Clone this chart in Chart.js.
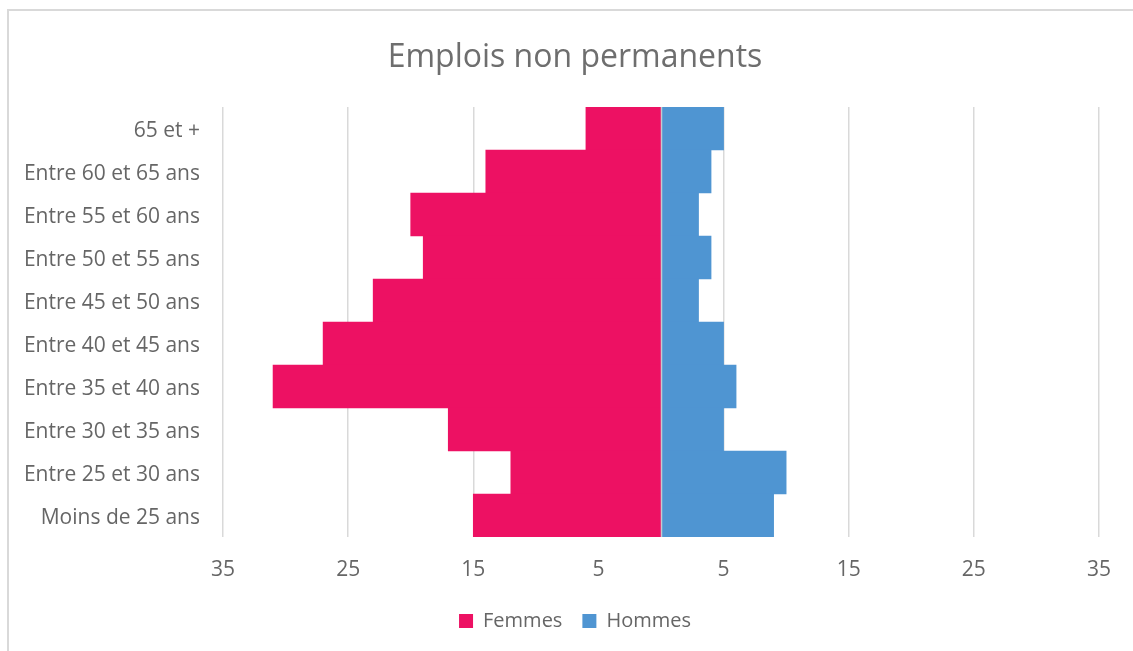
<!DOCTYPE html>
<html>
<head>
<meta charset="utf-8">
<script src="https://cdn.jsdelivr.net/npm/chart.js@4.4.1/dist/chart.umd.min.js"></script>
<style>
  html, body { margin: 0; padding: 0; background: #ffffff; overflow: hidden; }
  #wrap { position: relative; width: 1133px; height: 651px; overflow: hidden; }
  #frame { position: absolute; left: 7px; top: 9px; width: 1200px; height: 700px;
           border: 2px solid #d9d9d9; box-sizing: border-box; }
  #c { position: absolute; left: 0; top: 0; }
</style>
</head>
<body>
<div id="wrap">
  <div id="frame"></div>
  <canvas id="c" width="1150" height="651"></canvas>
</div>
<script>
// Age groups, top row first
const ageGroups = [
  '65 et +',
  'Entre 60 et 65 ans',
  'Entre 55 et 60 ans',
  'Entre 50 et 55 ans',
  'Entre 45 et 50 ans',
  'Entre 40 et 45 ans',
  'Entre 35 et 40 ans',
  'Entre 30 et 35 ans',
  'Entre 25 et 30 ans',
  'Moins de 25 ans'
];

// Headcounts per age group
const femmes = [6, 14, 20, 19, 23, 27, 31, 17, 12, 15];
const hommes = [5, 4, 3, 4, 3, 5, 6, 5, 10, 9];

// Horizontal axis range and tick spacing
const axisMin = -35;
const axisMax = 35;
const axisStep = 10;

const textColor = '#666666';
const titleColor = '#6e6e6e';
const fontFamily = '"Open Sans", "Liberation Sans", sans-serif';

// Vertical axis line drawn over the bars at value 0
const zeroLine = {
  id: 'zeroLine',
  afterDatasetsDraw(chart) {
    const { ctx, chartArea, scales } = chart;
    const x = Math.round(scales.x.getPixelForValue(0)) + 0.5;
    ctx.save();
    ctx.strokeStyle = '#c4c9d0';
    ctx.lineWidth = 1.5;
    ctx.beginPath();
    ctx.moveTo(x, chartArea.top);
    ctx.lineTo(x, chartArea.bottom);
    ctx.stroke();
    ctx.restore();
  }
};

new Chart(document.getElementById('c'), {
  type: 'bar',
  data: {
    labels: ageGroups,
    datasets: [
      {
        label: 'Femmes',
        data: femmes.map(v => -v),
        backgroundColor: '#ed1163',
        borderWidth: 0
      },
      {
        label: 'Hommes',
        data: hommes,
        backgroundColor: '#4f95d2',
        borderWidth: 0
      }
    ]
  },
  options: {
    indexAxis: 'y',
    responsive: false,
    animation: false,
    devicePixelRatio: 1,
    datasets: {
      bar: { barPercentage: 1, categoryPercentage: 1 }
    },
    layout: { padding: { left: 0, right: 0, top: 16, bottom: 10 } },
    plugins: {
      title: {
        display: true,
        text: 'Emplois non permanents',
        color: titleColor,
        font: { family: fontFamily, size: 32, weight: 'normal' },
        padding: { top: 23, bottom: 29.6 }
      },
      legend: {
        position: 'bottom',
        labels: {
          color: textColor,
          font: { family: fontFamily, size: 20 },
          boxWidth: 14,
          boxHeight: 14,
          padding: 20
        }
      },
      tooltip: { enabled: false }
    },
    scales: {
      x: {
        stacked: true,
        min: axisMin,
        max: axisMax,
        afterFit(scale) { scale.height = 54; },
        ticks: {
          stepSize: axisStep,
          color: textColor,
          font: { family: fontFamily, size: 21 },
          padding: 20,
          maxRotation: 0,
          callback: v => Math.abs(v)
        },
        grid: { color: '#d9d9d9', lineWidth: 1.5, drawTicks: false },
        border: { display: false }
      },
      y: {
        stacked: true,
        afterFit(scale) { scale.width = 223; },
        ticks: {
          color: textColor,
          font: { family: fontFamily, size: 21 },
          padding: 23,
          labelOffset: 3
        },
        grid: { display: false, drawTicks: false },
        border: { display: false }
      },
      // empty margin on the right of the plot area
      yRight: {
        type: 'category',
        position: 'right',
        afterFit(scale) { scale.width = 51; },
        ticks: { display: false },
        grid: { display: false, drawTicks: false },
        border: { display: false }
      }
    }
  },
  plugins: [zeroLine]
});
</script>
</body>
</html>
